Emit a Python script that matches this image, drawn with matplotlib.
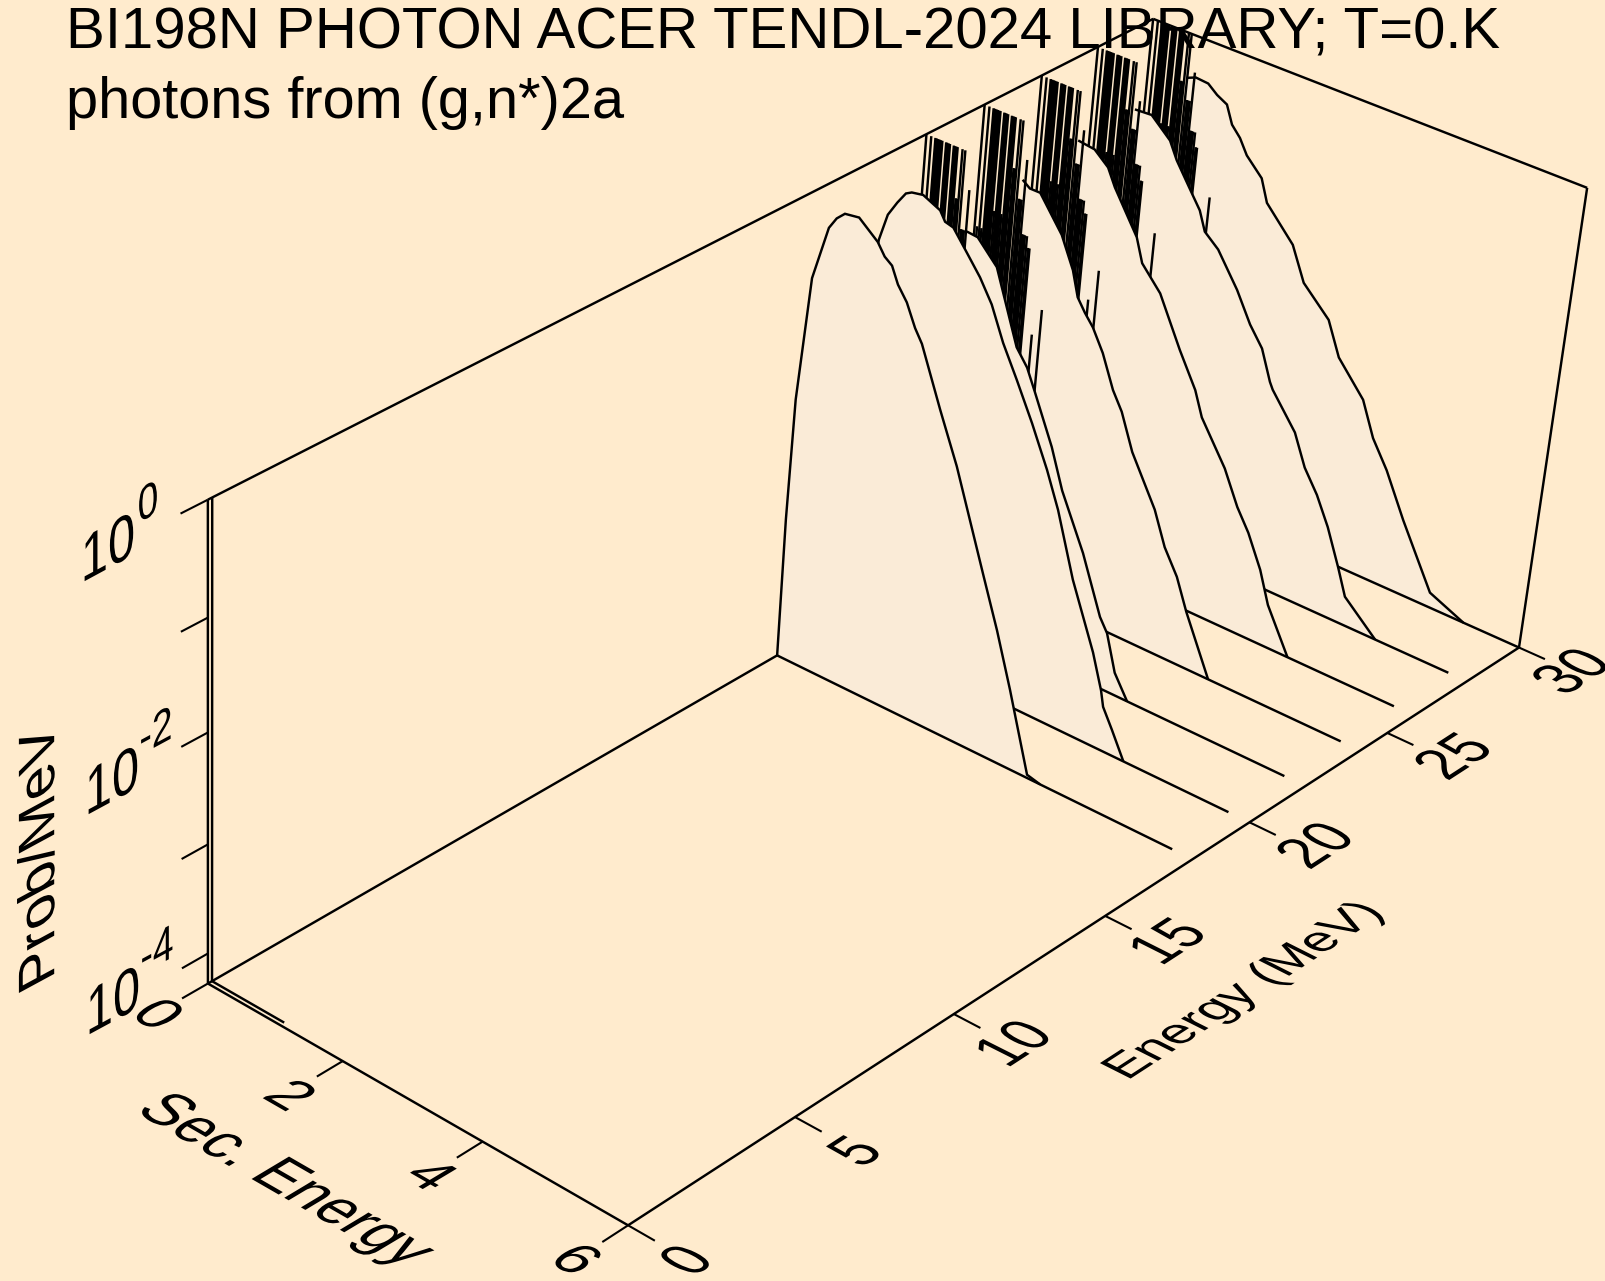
import numpy as np, matplotlib
matplotlib.use('Agg')
import matplotlib.pyplot as plt
from matplotlib.patheffects import AbstractPathEffect
from matplotlib.transforms import Affine2D

plt.rcParams['font.family'] = ['Liberation Sans', 'DejaVu Sans']

TITLE_1 = 'BI198N PHOTON ACER TENDL-2024 LIBRARY; T=0.K'
TITLE_2 = 'photons from (g,n*)2a'
E_LABEL = 'Energy (MeV)'
S_LABEL = 'Sec. Energy'
Z_LABEL = 'Prob/MeV'
E_TICKS = [0, 5, 10, 15, 20, 25, 30]
S_TICKS = [0, 2, 4, 6]
Z_TICKS = [0, -1, -2, -3, -4]
Z_LABELLED = [0, -2, -4]

E_MAX, S_MAX, Z_MIN, Z_MAX = 30.0, 6.0, -4.28, 0.0
BG = '#FFEBCD'
FILL = '#FAEBD7'
INK = 'black'

# Spectra: secondary energy (MeV) and log10(prob/MeV)
E_LOW = 0.12
s_low = [0.0, 0.0, 1.08]
z_low = [0.0, -4.28, -4.28]

energies = [18, 20, 22, 24, 26, 28, 30]
s_end = {18: 5.72, 20: 5.71, 22: 5.71, 24: 5.73, 26: 5.72, 28: 5.74, 30: 6.0}
s_18 = [0.00, 0.00, 0.03, 0.15, 0.34, 0.44, 0.55, 0.75, 1.03, 1.14, 1.25, 1.35, 1.49, 1.63, 1.74, 2.06, 2.35, 2.59, 2.83, 3.09, 3.34, 3.68, 3.87]
z_18 = [-4.28, -2.97, -1.84, -0.70, -0.20, -0.09, -0.02, 0.00, -0.14, -0.24, -0.29, -0.43, -0.55, -0.74, -0.85, -1.35, -1.78, -2.20, -2.62, -3.07, -3.55, -4.25, -4.28]
s_20 = [0.00, 0.00, 0.05, 0.24, 0.34, 0.46, 0.57, 0.65, 0.81, 1.06, 1.14, 1.26, 1.49, 1.68, 1.87, 2.07, 2.30, 2.56, 2.82, 3.02, 3.31, 3.68, 3.84, 3.89, 4.04, 4.24]
z_20 = [-4.28, -3.00, -1.80, -0.61, -0.36, -0.22, -0.11, -0.08, -0.06, -0.13, -0.21, -0.23, -0.41, -0.56, -0.75, -1.04, -1.31, -1.63, -1.98, -2.29, -2.85, -3.42, -3.73, -3.87, -4.04, -4.28]
s_22 = [0.67, 0.83, 1.13, 1.50, 1.67, 1.81, 2.11, 2.31, 2.68, 3.00, 3.12, 3.28, 3.49]
z_22 = [-0.70, -0.71, -0.90, -1.53, -1.67, -1.86, -2.28, -2.63, -3.11, -3.62, -3.74, -4.07, -4.28]
s_24 = [0.62, 0.73, 0.88, 1.23, 1.43, 1.53, 1.65, 1.78, 1.95, 2.14, 2.29, 2.49, 2.88, 3.07, 3.28, 3.46, 3.86]
z_24 = [-0.52, -0.57, -0.57, -0.86, -1.13, -1.35, -1.46, -1.56, -1.75, -2.04, -2.20, -2.52, -2.95, -3.25, -3.47, -3.75, -4.28]
s_26 = [0.59, 0.83, 1.04, 1.16, 1.53, 1.64, 1.93, 2.28, 2.55, 2.68, 3.07, 3.30, 3.49, 3.71, 3.87, 4.22]
z_26 = [-0.44, -0.46, -0.57, -0.72, -1.08, -1.29, -1.49, -1.92, -2.22, -2.44, -2.81, -3.11, -3.30, -3.59, -3.88, -4.28]
s_28 = [0.60, 0.84, 1.13, 1.25, 1.52, 1.64, 1.74, 1.95, 2.27, 2.50, 2.70, 2.86, 2.91, 3.28, 3.47, 3.68, 3.88, 4.09, 4.23, 4.71]
z_28 = [-0.42, -0.41, -0.57, -0.72, -0.97, -1.08, -1.25, -1.36, -1.65, -1.91, -2.08, -2.35, -2.41, -2.71, -2.99, -3.19, -3.44, -3.77, -4.01, -4.28]
s_30 = [0.57, 0.68, 0.86, 1.00, 1.15, 1.25, 1.38, 1.50, 1.74, 1.85, 2.27, 2.48, 2.88, 3.08, 3.48, 3.68, 3.92, 4.23, 4.72, 5.22]
z_30 = [-0.40, -0.37, -0.38, -0.45, -0.50, -0.66, -0.75, -0.88, -1.03, -1.23, -1.51, -1.81, -2.05, -2.35, -2.64, -2.95, -3.19, -3.58, -4.14, -4.28]
spectra = {18: (s_18, z_18), 20: (s_20, z_20), 22: (s_22, z_22), 24: (s_24, z_24),
           26: (s_26, z_26), 28: (s_28, z_28), 30: (s_30, z_30)}

# Discrete lines at low secondary energy (same levels at every incident energy)
comb_energies = [22, 24, 26, 28, 30]
comb_s = [0.00, 0.07, 0.13, 0.15, 0.17, 0.19, 0.21, 0.23, 0.285, 0.30, 0.32, 0.34,
          0.395, 0.415, 0.435, 0.45, 0.52, 0.56]
short_s = [0.035, 0.10, 0.26, 0.365, 0.48, 0.50]
short_z = [-1.1, -1.1, -0.9, -0.9, -0.45, -0.45]
mid_s = [0.59, 0.61, 0.63, 0.66, 0.68, 0.70, 0.72, 0.75, 0.78, 0.80]
mid_z = {22: [-0.7, -0.7, -0.7, -0.33, -1.05, -1.05, -1.05, -1.05, -1.15, -1.15],
         24: [-0.7, -0.7, -0.7, -0.33, -1.0, -1.0, -1.0, -1.0, -1.1, -1.1],
         26: [-0.65, -0.65, -0.65, -0.33, -0.95, -0.95, -0.95, -0.95, -1.06, -1.06],
         28: [-0.6, -0.6, -0.6, -0.33, -0.9, -0.9, -0.9, -0.9, -1.03, -1.03],
         30: [-0.6, -0.6, -0.6, -0.33, -0.86, -0.86, -0.86, -0.86, -0.99, -0.99]}
lone_s = [0.94, 1.05]
lone_z = {22: [-1.90, -1.70], 24: [-1.86, -1.60], 26: [-1.82, -1.52], 28: [-1.80, -1.45], 30: [-1.78, -1.39]}

# Camera: perspective matrix taking (E, s, log10 p, 1) to picture pixels
VIEW = np.array([[37.3775, 67.8824, -2.77586, 207.864],
                 [-15.9324, 30.631, -126.124, 499.691],
                 [0.00508854, -0.00976173, -0.0132979, 1.0]])


def proj(E, s, z):
    E, s, z = np.broadcast_arrays(np.asarray(E, float), np.asarray(s, float), np.asarray(z, float))
    h = VIEW @ np.array([E, s, z, np.ones_like(E)])
    return h[0] / h[2], h[1] / h[2]


def direction(a, b):
    xa, ya = proj(*a)
    xb, yb = proj(*b)
    d = np.array([float(xb - xa), -float(yb - ya)])
    return d / np.hypot(*d)


class PlaneText(AbstractPathEffect):
    """Draws a text object in the plane spanned by two on-screen directions."""
    def __init__(self, axes, anchor, u, v):
        super().__init__()
        self.axes, self.anchor, self.u, self.v = axes, anchor, u, v

    def draw_path(self, renderer, gc, tpath, affine, rgbFace=None):
        x0, y0 = self.axes.transData.transform(self.anchor)
        m = Affine2D(np.array([[self.u[0], self.v[0], 0], [self.u[1], self.v[1], 0], [0, 0, 1]]))
        t = affine + Affine2D().translate(-x0, -y0) + m + Affine2D().translate(x0, y0)
        renderer.draw_path(gc, tpath, t, rgbFace)


fig = plt.figure(figsize=(16.05, 12.81), dpi=100, facecolor=BG)
ax = fig.add_axes([0, 0, 1, 1])
ax.set_xlim(0, 1605)
ax.set_ylim(1281, 0)
ax.axis('off')

LW = 1.75
order = [2]


def line(E, s, z, lw=LW):
    x, y = proj(E, s, z)
    ax.plot(x, y, color=INK, lw=lw, solid_capstyle='butt', solid_joinstyle='miter', zorder=order[0], clip_on=False)
    order[0] += 0.001


def label(x, y, text, u, v, size=41.6):
    t = ax.text(x, y, text, ha='center', va='center', fontsize=size, color=INK, zorder=50)
    t.set_path_effects([PlaneText(ax, (x, y), u, v)])


# Frame
line([0, 0], [0, 0], [Z_MIN, Z_MAX])
line([0, 30], [0, 0], [Z_MAX, Z_MAX])
line([30, 30], [0, 6], [Z_MAX, Z_MAX])
line([30, 30], [6, 6], [Z_MAX, Z_MIN])
line([0, 0], [0, 6], [Z_MIN, Z_MIN])
line([0, 30], [6, 6], [Z_MIN, Z_MIN])
line([0, 30], [0, 0], [Z_MIN, Z_MIN])

# Ticks
for e in E_TICKS:
    line([e, e], [6, 6.36], [Z_MIN, Z_MIN], lw=1.5)
for s in S_TICKS:
    line([0, -0.75], [s, s], [Z_MIN, Z_MIN], lw=1.5)
for z in Z_TICKS:
    line([0, -0.75], [0, 0], [z, z], lw=1.5)

# Spectra, far ones first
for E in energies[::-1]:
    s, z = spectra[E]
    sa = np.concatenate([[s[0]], s, [s_end[E], s[0]]])
    za = np.concatenate([[Z_MIN], z, [Z_MIN, Z_MIN]])
    x, y = proj(E, sa, za)
    ax.fill(x, y, color=FILL, lw=0, zorder=order[0])
    order[0] += 0.001
    if E in comb_energies:
        for cs in comb_s:
            line([E, E], [cs, cs], [Z_MIN, Z_MAX])
        for cs, cz in zip(short_s, short_z):
            line([E, E], [cs, cs], [Z_MIN, cz])
        for cs, cz in zip(mid_s, mid_z[E]):
            line([E, E], [cs, cs], [Z_MIN, cz])
        for cs, cz in zip(lone_s, lone_z[E]):
            line([E, E], [cs, cs], [Z_MIN, cz])
    line(E, s, z)
    line([E, E], [0, s_end[E]], [Z_MIN, Z_MIN])

line(E_LOW, s_low, z_low)

# Titles
ax.text(66, 48, TITLE_1, fontsize=41.9, color=INK, ha='left', va='baseline', zorder=60)
ax.text(66, 118, TITLE_2, fontsize=41.6, color=INK, ha='left', va='baseline', zorder=60)

# Energy axis labels
uE = direction((15, 6, Z_MIN), (20, 6, Z_MIN))
vE = direction((15, 6, Z_MIN), (15, 0, Z_MIN))
for e, pos in zip(E_TICKS, [(690, 1262), (859, 1153), (1017, 1045), (1171, 943), (1319, 847), (1457, 758), (1575, 673)]):
    label(pos[0], pos[1], str(e), uE * 0.92, vE * 1.1)
label(1245, 991, E_LABEL, uE, vE, size=36)

# Secondary energy labels
uS = direction((0, 2, Z_MIN), (0, 5, Z_MIN))
vS = direction((0, 2, Z_MIN), (8, 2, Z_MIN))
for v, pos in zip(S_TICKS, [(155, 1016), (287, 1097), (428, 1177), (573, 1261)]):
    label(pos[0], pos[1], str(v), uS, vS)
label(284, 1181, S_LABEL, uS, vS * 1.1, size=41.5)

# Probability labels: a power of ten and its raised exponent
uZ = direction((0, 0, -2), (5, 0, -2))
vZ = direction((0, 0, -3), (0, 0, -1))
base_pos = {0: (108, 552), -2: (112, 785), -4: (113, 1005)}
exp_pos = {0: (148, 505), -2: (156, 734), -4: (157, 953)}
for z in Z_LABELLED:
    label(*base_pos[z], '10', uZ * 0.95, vZ * 1.1, size=42)
    label(*exp_pos[z], str(z), uZ * 0.95, vZ * 1.1, size=32)
label(41, 856, Z_LABEL, vZ, -uZ, size=42)

fig.savefig('out.png', dpi=100, facecolor=BG)
